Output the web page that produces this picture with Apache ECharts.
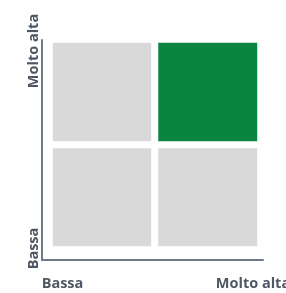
<!DOCTYPE html>
<html><head><meta charset="utf-8">
<script src="https://cdn.jsdelivr.net/npm/echarts@6/dist/echarts.min.js"></script>
<style>html,body{margin:0;padding:0;background:#fff}#c{width:286px;height:293px}</style>
</head><body><div id="c"></div>
<script>
const xCategories = ['Bassa', 'Molto alta'];
const yCategories = ['Bassa', 'Molto alta'];
// [xIndex, yIndex, highlighted]
const cellValues = [[0, 0, 0], [1, 0, 0], [0, 1, 0], [1, 1, 1]];
const xTickLabels = ['Bassa', 'Molto alta'];
const yTickLabels = ['Bassa', 'Molto alta'];

const textColor = '#4d5864';
const lineColor = '#6e7a85';
const font = {fontFamily: 'Open Sans', fontWeight: 'bold', fontSize: 14.5, color: textColor};

const chart = echarts.init(document.getElementById('c'));
chart.setOption({
  animation: false,
  grid: [
    {left: 49.5, top: 39.5, width: 211, height: 210, outerBoundsMode: 'none'},
    {left: 42, top: 40, width: 221, height: 220, outerBoundsMode: 'none'},
    {left: 62.5, top: 51, width: 190.5, height: 197.5, outerBoundsMode: 'none'}
  ],
  xAxis: [
    {type: 'category', data: xCategories, gridIndex: 0, show: false},
    {type: 'value', gridIndex: 1, min: 0, max: 1, offset: 8, splitLine: {show: false},
     axisTick: {show: false}, axisLabel: {show: false},
     axisLine: {show: true, lineStyle: {color: lineColor, width: 2}}},
    {type: 'value', gridIndex: 2, min: 0, max: 1, interval: 1, splitLine: {show: false},
     axisTick: {show: false}, axisLine: {show: false},
     axisLabel: Object.assign({margin: 28, formatter: v => xTickLabels[v]}, font)}
  ],
  yAxis: [
    {type: 'category', data: yCategories, gridIndex: 0, show: false},
    {type: 'value', gridIndex: 1, min: 0, max: 1, splitLine: {show: false},
     axisTick: {show: false}, axisLabel: {show: false},
     axisLine: {show: true, lineStyle: {color: lineColor, width: 2}}},
    {type: 'value', gridIndex: 2, min: 0, max: 1, interval: 1, splitLine: {show: false},
     axisTick: {show: false}, axisLine: {show: false},
     axisLabel: Object.assign({margin: 21, rotate: 90, formatter: v => yTickLabels[v]}, font)}
  ],
  visualMap: {
    show: false, type: 'piecewise', seriesIndex: 0, dimension: 2,
    pieces: [{value: 0, color: '#d9d9d9'}, {value: 1, color: '#0a8540'}]
  },
  series: [{
    type: 'heatmap', xAxisIndex: 0, yAxisIndex: 0, data: cellValues,
    itemStyle: {borderColor: '#ffffff', borderWidth: 7},
    emphasis: {disabled: true}
  }]
});
</script></body></html>
